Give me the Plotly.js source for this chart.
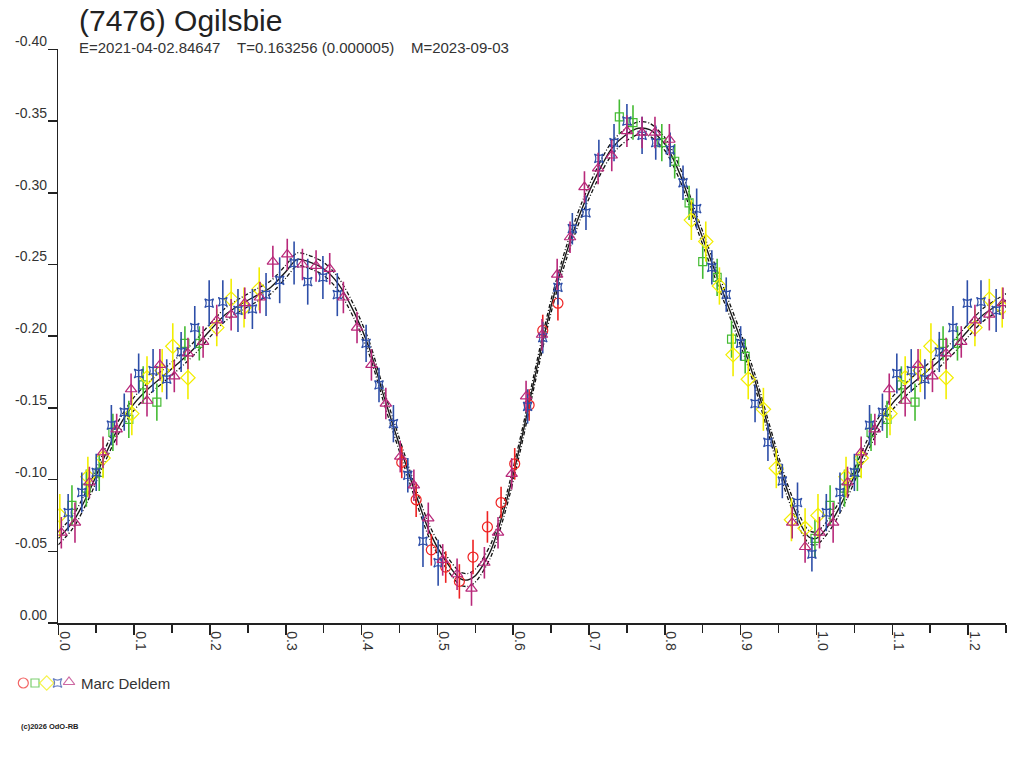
<!DOCTYPE html>
<html><head><meta charset="utf-8">
<script src="https://cdn.plot.ly/plotly-3.0.1.min.js"></script>
<style>html,body{margin:0;padding:0;background:#fff;}#chart{width:1024px;height:768px;}</style>
</head><body><div id="chart"></div>
<script>
// ---- fitted curve ----
const curvePhase = [0.00,0.02,0.04,0.06,0.08,0.10,0.12,0.14,0.16,0.18,0.20,0.22,0.24,0.26,0.28,0.30,0.315,0.33,0.35,0.37,0.39,0.41,0.43,0.45,0.47,0.49,0.51,0.53,0.54,0.55,0.57,0.59,0.61,0.63,0.65,0.67,0.69,0.71,0.73,0.75,0.765,0.78,0.80,0.82,0.84,0.86,0.88,0.90,0.92,0.94,0.96,0.98,0.99,1.00];
const curveMag   = [-0.059,-0.071,-0.091,-0.115,-0.137,-0.153,-0.164,-0.173,-0.182,-0.192,-0.204,-0.215,-0.222,-0.228,-0.234,-0.245,-0.2536,-0.252,-0.247,-0.236,-0.217,-0.192,-0.157,-0.124,-0.092,-0.063,-0.044,-0.031,-0.030,-0.033,-0.050,-0.083,-0.126,-0.175,-0.221,-0.258,-0.288,-0.312,-0.331,-0.341,-0.345,-0.344,-0.334,-0.313,-0.283,-0.254,-0.226,-0.198,-0.167,-0.130,-0.095,-0.068,-0.060,-0.059];
const bandHalfWidth = 0.0045;

// ---- observations ----
const redPhase = [0.453,0.472,0.492,0.511,0.529,0.547,0.566,0.584,0.602,0.621,0.639,0.659];
const redMag   = [-0.112,-0.086,-0.051,-0.039,-0.029,-0.046,-0.067,-0.084,-0.111,-0.152,-0.204,-0.223];
const redErr   = [0.011,0.012,0.011,0.011,0.012,0.012,0.011,0.011,0.011,0.011,0.011,0.012];

const greenPhase = [0.018,0.037,0.054,0.072,0.093,0.112,0.130,0.167,0.186,0.740,0.758,0.796,0.813,0.832,0.850,0.869,0.888,0.906,0.998];
const greenMag   = [-0.082,-0.094,-0.105,-0.133,-0.142,-0.166,-0.154,-0.195,-0.195,-0.353,-0.349,-0.335,-0.322,-0.293,-0.252,-0.241,-0.198,-0.186,-0.059];
const greenErr   = [0.014,0.013,0.013,0.013,0.013,0.013,0.013,0.012,0.012,0.012,0.012,0.013,0.012,0.012,0.012,0.013,0.013,0.012,0.013];

const yellowPhase = [0.002,0.039,0.059,0.097,0.117,0.137,0.151,0.171,0.209,0.228,0.245,0.265,0.835,0.854,0.872,0.890,0.910,0.930,0.947,0.967,0.985];
const yellowMag   = [-0.075,-0.102,-0.115,-0.146,-0.171,-0.176,-0.193,-0.171,-0.206,-0.226,-0.220,-0.233,-0.281,-0.266,-0.235,-0.187,-0.170,-0.149,-0.108,-0.072,-0.066];
const yellowErr   = [0.015,0.014,0.014,0.015,0.015,0.015,0.016,0.015,0.013,0.014,0.014,0.015,0.014,0.014,0.013,0.015,0.014,0.015,0.014,0.015,0.014];

const bluePhase = [0.013,0.031,0.050,0.070,0.087,0.106,0.125,0.143,0.162,0.180,0.199,0.217,0.237,0.256,0.274,0.292,0.311,0.329,0.349,0.368,0.406,0.423,0.442,0.461,0.481,0.501,0.619,0.639,0.659,0.678,0.696,0.713,0.733,0.750,0.770,0.788,0.807,0.824,0.842,0.862,0.881,0.900,0.919,0.936,0.955,0.975,0.994];
const blueMag   = [-0.077,-0.091,-0.105,-0.138,-0.147,-0.174,-0.176,-0.170,-0.189,-0.206,-0.223,-0.224,-0.218,-0.219,-0.229,-0.239,-0.251,-0.238,-0.241,-0.229,-0.195,-0.166,-0.139,-0.103,-0.057,-0.042,-0.151,-0.199,-0.234,-0.275,-0.286,-0.324,-0.335,-0.350,-0.340,-0.335,-0.330,-0.307,-0.289,-0.248,-0.229,-0.195,-0.153,-0.126,-0.099,-0.084,-0.048];
const blueErr   = [0.013,0.014,0.013,0.014,0.013,0.014,0.015,0.014,0.014,0.015,0.016,0.015,0.015,0.014,0.015,0.016,0.015,0.016,0.015,0.015,0.013,0.012,0.013,0.012,0.018,0.016,0.012,0.011,0.012,0.011,0.012,0.013,0.013,0.012,0.013,0.012,0.012,0.012,0.014,0.012,0.012,0.012,0.013,0.013,0.012,0.014,0.012];

const magentaPhase = [0.004,0.022,0.041,0.059,0.077,0.096,0.117,0.134,0.153,0.171,0.191,0.209,0.228,0.246,0.266,0.283,0.302,0.322,0.340,0.358,0.376,0.394,0.413,0.432,0.451,0.469,0.488,0.507,0.526,0.545,0.562,0.580,0.598,0.617,0.638,0.658,0.675,0.694,0.712,0.730,0.750,0.770,0.787,0.806,0.968,0.985];
const magentaMag   = [-0.063,-0.070,-0.098,-0.119,-0.135,-0.163,-0.155,-0.180,-0.172,-0.188,-0.196,-0.211,-0.215,-0.223,-0.227,-0.252,-0.257,-0.250,-0.249,-0.247,-0.227,-0.206,-0.180,-0.153,-0.116,-0.096,-0.073,-0.044,-0.034,-0.024,-0.042,-0.063,-0.104,-0.158,-0.201,-0.243,-0.269,-0.304,-0.317,-0.326,-0.343,-0.342,-0.342,-0.337,-0.070,-0.053];
const magentaErr   = [0.011,0.014,0.011,0.011,0.011,0.011,0.011,0.011,0.011,0.011,
                      0.011,0.011,0.011,0.011,0.011,0.011,0.011,0.011,0.011,0.011,
                      0.011,0.011,0.011,0.011,0.011,0.011,0.011,0.011,0.011,0.012,
                      0.011,0.011,0.011,0.011,0.011,0.011,0.011,0.011,0.011,0.011,
                      0.011,0.011,0.011,0.011,0.011,0.011];

// ---- ticks & texts ----
const yTickVals = [0,-0.05,-0.10,-0.15,-0.20,-0.25,-0.30,-0.35,-0.40];
const yTickText = ['0.00','-0.05','-0.10','-0.15','-0.20','-0.25','-0.30','-0.35','-0.40'];
const titleText = '(7476) Ogilsbie';
const subtitleText = 'E=2021-04-02.84647\u00a0\u00a0\u00a0\u00a0T=0.163256 (0.000005)\u00a0\u00a0\u00a0\u00a0M=2023-09-03';
const observerName = 'Marc Deldem';
const copyrightText = '(c)2026 OdO-RB';

const phaseMax = 1.25;

// phase folding: the first part of the cycle is shown again after phase 1
function foldPoints(ph, mg, er) {
  const x = [], y = [], e = [];
  ph.forEach((p, i) => {
    x.push(p); y.push(mg[i]); e.push(er[i]);
    if (p + 1 <= phaseMax + 0.01) { x.push(p + 1); y.push(mg[i]); e.push(er[i]); }
  });
  return {x, y, e};
}
function foldCurve(ph, mg, off) {
  const x = [], y = [];
  ph.forEach((p, i) => { x.push(p); y.push(mg[i] + off); });
  ph.forEach((p, i) => { if (p > 0 && p <= 0.27) { x.push(p + 1); y.push(mg[i] + off); } });
  return {x, y};
}

const curveColor = '#1a1a1a';
const traces = [];
[-bandHalfWidth, bandHalfWidth].forEach(off => {
  const c = foldCurve(curvePhase, curveMag, off);
  traces.push({x: c.x, y: c.y, mode: 'lines', line: {color: '#111', width: 1.3, dash: '4px,2px,1px,2px', shape: 'spline', smoothing: 0.8}, hoverinfo: 'skip', showlegend: false});
});
{
  const c = foldCurve(curvePhase, curveMag, 0);
  traces.push({x: c.x, y: c.y, mode: 'lines', line: {color: curveColor, width: 1.4, shape: 'spline', smoothing: 0.8}, hoverinfo: 'skip', showlegend: false});
}

const series = [
  {ph: redPhase, mg: redMag, er: redErr, color: '#ee2222', symbol: 'circle-open', size: 10},
  {ph: greenPhase, mg: greenMag, er: greenErr, color: '#44bb33', symbol: 'square-open', size: 8},
  {ph: yellowPhase, mg: yellowMag, er: yellowErr, color: '#f2ee00', symbol: 'diamond-open', size: 11},
  {ph: bluePhase, mg: blueMag, er: blueErr, color: '#2d4ea8', symbol: 'star-square-open', size: 8},
  {ph: magentaPhase, mg: magentaMag, er: magentaErr, color: '#b8287a', symbol: 'triangle-up-open', size: 10}
];
series.forEach(s => {
  const f = foldPoints(s.ph, s.mg, s.er);
  traces.push({
    x: f.x, y: f.y, mode: 'markers', showlegend: false, hoverinfo: 'skip',
    marker: {symbol: s.symbol, size: s.size, color: s.color, line: {color: s.color, width: 1.2}},
    error_y: {type: 'data', array: f.e, visible: true, color: s.color, thickness: 1.6, width: 0}
  });
});

// legend symbols, on a page-wide invisible pixel-space subplot
traces.push({
  x: [23.3, 35, 46.7, 57.5, 69], y: [683, 683, 683, 683, 682],
  xaxis: 'x2', yaxis: 'y2', mode: 'markers', cliponaxis: false, showlegend: false, hoverinfo: 'skip',
  marker: {symbol: series.map(s => s.symbol), size: series.map(s => s.size), color: series.map(s => s.color),
           line: {color: series.map(s => s.color), width: 1.2}}
});

const W = 1024, H = 768;
const plotL = 58.3, plotR = 1006, plotT = 49.4, plotB = 623;
const axisColor = '#222';
const layout = {
  width: W, height: H,
  margin: {l: 0, r: 0, t: 0, b: 0, pad: 0},
  paper_bgcolor: '#fff', plot_bgcolor: 'rgba(0,0,0,0)',
  font: {family: '"Liberation Sans", Arial, sans-serif', color: '#333'},
  showlegend: false,
  xaxis: {
    domain: [plotL / W, plotR / W], anchor: 'y',
    range: [0, phaseMax], tick0: 0, dtick: 0.1, tickformat: '.1f', tickangle: 90,
    ticks: 'outside', ticklen: 10, tickwidth: 1.5, tickcolor: axisColor,
    showline: true, linecolor: axisColor, linewidth: 1.5, showgrid: false, zeroline: false,
    tickfont: {size: 14, color: '#333'}, ticklabelshift: 6, ticklabelstandoff: -6,
    minor: {dtick: 0.05, tick0: 0, ticks: 'outside', ticklen: 8, tickwidth: 1.5, tickcolor: axisColor, showgrid: false},
    fixedrange: true
  },
  yaxis: {
    domain: [(H - plotB) / H, (H - plotT) / H], anchor: 'x',
    range: [0, -0.40], tickvals: yTickVals, ticktext: yTickText,
    ticks: 'outside', ticklen: 9, tickwidth: 1.5, tickcolor: axisColor,
    showline: true, linecolor: axisColor, linewidth: 1.5, showgrid: false, zeroline: false,
    tickfont: {size: 14, color: '#333'}, ticklabelshift: 8, ticklabelstandoff: -2,
    fixedrange: true
  },
  xaxis2: {domain: [0, 1], anchor: 'y2', range: [0, W], visible: false, fixedrange: true},
  yaxis2: {domain: [0, 1], anchor: 'x2', range: [H, 0], visible: false, fixedrange: true},
  annotations: [
    {text: titleText, xref: 'x2', yref: 'y2', x: 77, y: 20, xanchor: 'left', yanchor: 'middle', showarrow: false, font: {size: 30, color: '#222'}},
    {text: subtitleText, xref: 'x2', yref: 'y2', x: 77, y: 47, xanchor: 'left', yanchor: 'middle', showarrow: false, font: {size: 15, color: '#333'}},
    {text: observerName, xref: 'x2', yref: 'y2', x: 79, y: 683, xanchor: 'left', yanchor: 'middle', showarrow: false, font: {size: 15, color: '#333'}},
    {text: '<b>' + copyrightText + '</b>', xref: 'x2', yref: 'y2', x: 19, y: 726, xanchor: 'left', yanchor: 'middle', showarrow: false, font: {size: 7.5, color: '#222'}}
  ]
};

Plotly.newPlot('chart', traces, layout, {displayModeBar: false, staticPlot: true});
</script>
</body></html>
